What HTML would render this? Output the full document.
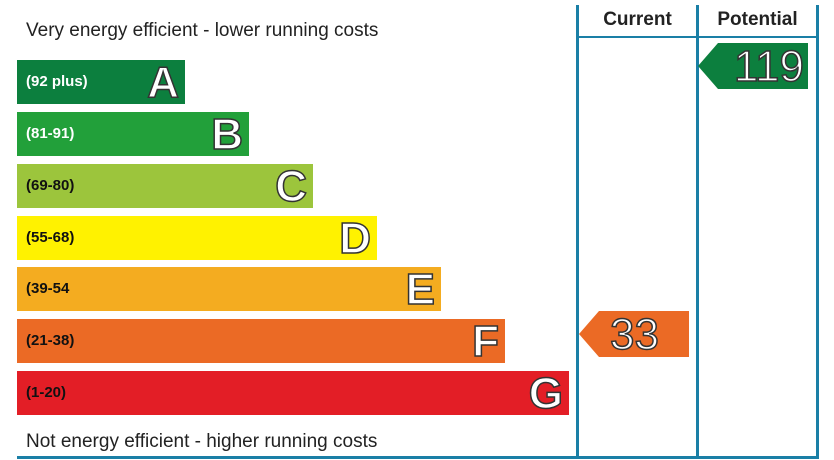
<!DOCTYPE html>
<html><head><style>
body{margin:0;background:#fff;width:834px;height:460px;position:relative;overflow:hidden;font-family:"Liberation Sans",Arial,sans-serif}
.t{position:absolute;font-size:19px;color:#222}
.bar{position:absolute;left:17px;height:44px}
.bar span{position:absolute;left:9px;top:13px;font-size:15px;font-weight:bold;color:#111}
.bar b{position:absolute;right:6px;top:-2px;font-size:44px;font-weight:bold;color:#fff;-webkit-text-stroke:1.5px #333}
.l{position:absolute;background:#1a7fa6}
.arr{position:absolute;height:46px;clip-path:polygon(0 50%,20px 0,100% 0,100% 100%,20px 100%)}
.arr b{position:absolute;right:4px;top:-1px;font-size:44px;font-weight:normal;color:#fff;-webkit-text-stroke:1.5px #333}
.h{position:absolute;top:9px;font-size:19px;font-weight:bold;color:#222;text-align:center}
</style></head><body>
<div class="t" style="left:26px;top:20px">Very energy efficient - lower running costs</div>
<div class="t" style="left:26px;top:431px">Not energy efficient - higher running costs</div>
<div class="bar" style="top:60px;width:168px;background:#0c7f3e"><span style="color:#fff">(92 plus)</span><b>A</b></div>
<div class="bar" style="top:112px;width:232px;background:#22a03a"><span style="color:#fff">(81-91)</span><b>B</b></div>
<div class="bar" style="top:164px;width:296px;background:#9cc53c"><span>(69-80)</span><b>C</b></div>
<div class="bar" style="top:216px;width:360px;background:#fff200"><span>(55-68)</span><b>D</b></div>
<div class="bar" style="top:267px;width:424px;background:#f4ac20"><span>(39-54</span><b>E</b></div>
<div class="bar" style="top:319px;width:488px;background:#eb6a25"><span>(21-38)</span><b>F</b></div>
<div class="bar" style="top:371px;width:552px;background:#e31e26"><span>(1-20)</span><b>G</b></div>
<div class="l" style="left:576px;top:5px;width:3px;height:454px"></div>
<div class="l" style="left:696px;top:5px;width:3px;height:454px"></div>
<div class="l" style="left:816px;top:5px;width:3px;height:454px"></div>
<div class="l" style="left:576px;top:36px;width:243px;height:2px"></div>
<div class="l" style="left:17px;top:456px;width:802px;height:3px"></div>
<div class="h" style="left:579px;width:117px">Current</div>
<div class="h" style="left:699px;width:117px">Potential</div>
<div class="arr" style="left:698px;top:43px;width:110px;background:#0c7f3e"><b>119</b></div>
<div class="arr" style="left:579px;top:311px;width:110px;background:#eb6a25"><b style="right:30px">33</b></div>
</body></html>
